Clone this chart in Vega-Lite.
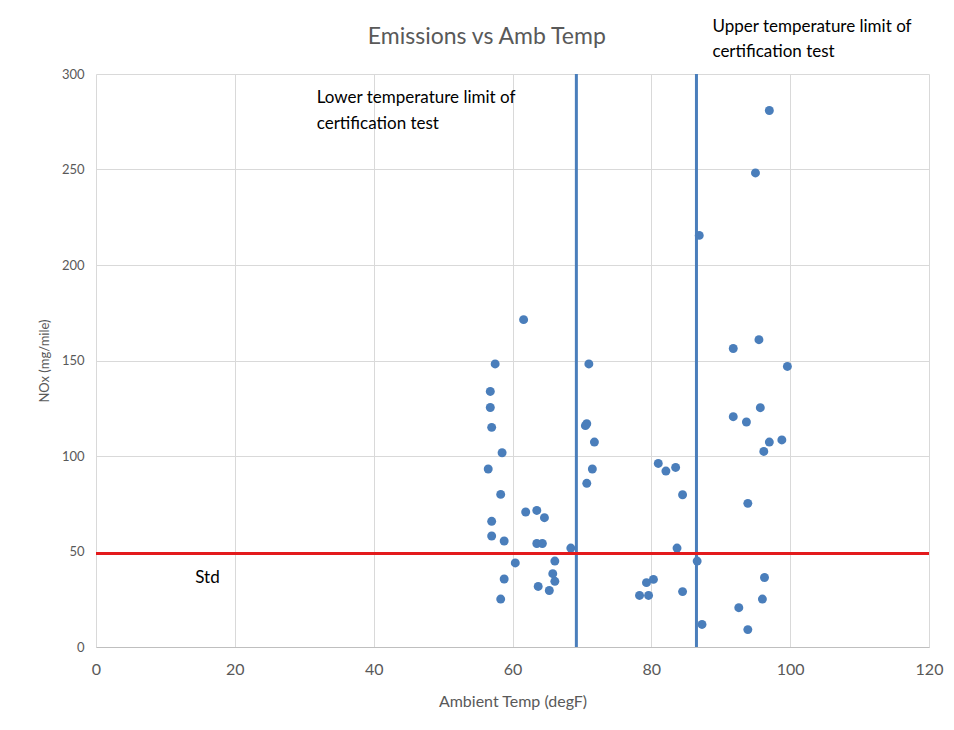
{
  "$schema": "https://vega.github.io/schema/vega-lite/v6.json",
  "width": 833,
  "height": 573,
  "autosize": {"type": "none"},
  "padding": {"left": 96, "top": 74, "right": 25, "bottom": 83},
  "background": "white",
  "config": {
    "font": "Lato",
    "view": {"stroke": null},
    "axis": {
      "gridColor": "#d9d9d9",
      "domainColor": "#bfbfbf",
      "tickColor": "#bfbfbf",
      "labelColor": "#595959",
      "titleColor": "#595959",
      "titleFontWeight": "normal",
      "labelFont": "Lato",
      "titleFont": "Lato"
    }
  },
  "datasets": {
    "points": [
      {"temp": 61.6, "nox": 171.4}, {"temp": 57.5, "nox": 148.2}, {"temp": 71.0, "nox": 148.2},
      {"temp": 56.8, "nox": 133.8}, {"temp": 56.8, "nox": 125.4}, {"temp": 57.0, "nox": 115.0},
      {"temp": 70.5, "nox": 115.9}, {"temp": 70.7, "nox": 116.9}, {"temp": 71.8, "nox": 107.3},
      {"temp": 58.5, "nox": 101.7}, {"temp": 56.5, "nox": 93.2}, {"temp": 71.5, "nox": 93.2},
      {"temp": 70.7, "nox": 85.7}, {"temp": 58.3, "nox": 79.9}, {"temp": 61.9, "nox": 70.7},
      {"temp": 63.5, "nox": 71.5}, {"temp": 64.6, "nox": 67.7}, {"temp": 57.0, "nox": 65.8},
      {"temp": 57.0, "nox": 58.1}, {"temp": 58.8, "nox": 55.5}, {"temp": 63.5, "nox": 54.2},
      {"temp": 64.3, "nox": 54.2}, {"temp": 68.4, "nox": 51.8}, {"temp": 60.4, "nox": 44.0},
      {"temp": 66.1, "nox": 45.0}, {"temp": 65.8, "nox": 38.4}, {"temp": 66.1, "nox": 34.4},
      {"temp": 58.8, "nox": 35.6}, {"temp": 63.7, "nox": 31.7}, {"temp": 65.3, "nox": 29.6},
      {"temp": 58.3, "nox": 25.1},
      {"temp": 81.0, "nox": 96.1}, {"temp": 82.1, "nox": 92.1}, {"temp": 83.5, "nox": 94.0},
      {"temp": 84.5, "nox": 79.7}, {"temp": 83.7, "nox": 51.8}, {"temp": 86.6, "nox": 45.0},
      {"temp": 79.3, "nox": 33.7}, {"temp": 80.3, "nox": 35.4}, {"temp": 78.3, "nox": 27.0},
      {"temp": 79.6, "nox": 27.0}, {"temp": 84.5, "nox": 29.0}, {"temp": 87.3, "nox": 11.8},
      {"temp": 97.0, "nox": 280.9}, {"temp": 95.0, "nox": 248.2}, {"temp": 86.9, "nox": 215.5},
      {"temp": 91.8, "nox": 156.3}, {"temp": 95.5, "nox": 160.9}, {"temp": 99.6, "nox": 146.9},
      {"temp": 95.7, "nox": 125.3}, {"temp": 91.8, "nox": 120.6}, {"temp": 93.7, "nox": 117.8},
      {"temp": 98.8, "nox": 108.4}, {"temp": 97.0, "nox": 107.3}, {"temp": 96.2, "nox": 102.4},
      {"temp": 93.9, "nox": 75.2}, {"temp": 96.3, "nox": 36.4}, {"temp": 96.0, "nox": 25.1},
      {"temp": 92.6, "nox": 20.6}, {"temp": 93.9, "nox": 9.1}
    ],
    "limits": [{"temp": 69.2}, {"temp": 86.5}],
    "std": [{"nox": 49}],
    "notes": [
      {"temp": 31.8, "nox": 287.2, "label": "Lower temperature limit of"},
      {"temp": 31.8, "nox": 273.6, "label": "certification test"},
      {"temp": 88.8, "nox": 324.8, "label": "Upper temperature limit of"},
      {"temp": 88.8, "nox": 311.7, "label": "certification test"},
      {"temp": 14.3, "nox": 36.3, "label": "Std"}
    ],
    "heading": [
      {"temp": 56.3, "nox": 319.5, "label": "Emissions vs Amb Temp"}
    ]
  },
  "layer": [
    {
      "data": {"name": "points"},
      "mark": {"type": "point", "filled": true, "opacity": 1, "size": 80, "color": "#4a7ebb"},
      "encoding": {
        "x": {
          "field": "temp", "type": "quantitative",
          "scale": {"domain": [0, 120], "nice": false, "zero": false},
          "axis": {"values": [0, 20, 40, 60, 80, 100, 120], "title": "Ambient Temp (degF)", "labelFontSize": 16, "titleFontSize": 16, "ticks": false, "labelFlush": false, "labelPadding": 14, "titlePadding": 16}
        },
        "y": {
          "field": "nox", "type": "quantitative",
          "scale": {"domain": [0, 300], "nice": false},
          "axis": {"values": [0, 50, 100, 150, 200, 250, 300], "title": "NOx (mg/mile)", "labelFontSize": 13, "titleFontSize": 13, "ticks": false, "domain": false, "labelPadding": 12, "titlePadding": 10}
        }
      }
    },
    {
      "data": {"name": "limits"},
      "mark": {"type": "rule", "color": "#4a7ebb", "strokeWidth": 3},
      "encoding": {"x": {"field": "temp", "type": "quantitative"}}
    },
    {
      "data": {"name": "std"},
      "mark": {"type": "rule", "color": "#e31a1c", "strokeWidth": 3},
      "encoding": {"y": {"field": "nox", "type": "quantitative"}}
    },
    {
      "data": {"name": "notes"},
      "mark": {"type": "text", "align": "left", "baseline": "middle", "fontSize": 17, "color": "#000000", "font": "Lato", "clip": false},
      "encoding": {
        "x": {"field": "temp", "type": "quantitative"},
        "y": {"field": "nox", "type": "quantitative"},
        "text": {"field": "label"}
      }
    },
    {
      "data": {"name": "heading"},
      "mark": {"type": "text", "align": "center", "baseline": "middle", "fontSize": 23, "color": "#595959", "font": "Lato", "clip": false},
      "encoding": {
        "x": {"field": "temp", "type": "quantitative"},
        "y": {"field": "nox", "type": "quantitative"},
        "text": {"field": "label"}
      }
    }
  ]
}
